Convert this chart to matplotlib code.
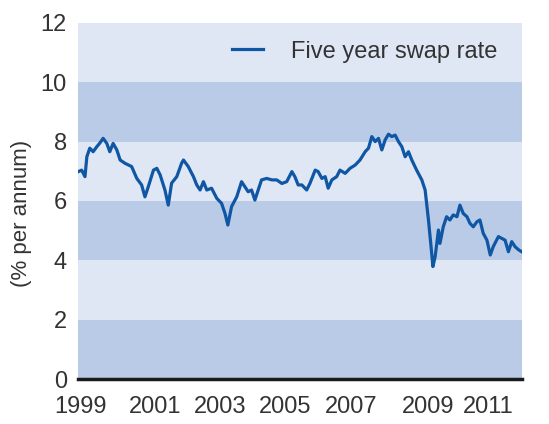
"""
Five year swap rate, 1999-2011
"""

import matplotlib
matplotlib.use("Agg")
import matplotlib.pyplot as plt

plt.rcParams['font.family'] = ['Liberation Sans', 'DejaVu Sans']

# data (decimal year, % per annum)
years = [1999.03, 1999.10, 1999.19, 1999.24, 1999.32, 1999.41, 1999.51, 1999.59,
         1999.68, 1999.78, 1999.86, 1999.95, 2000.05, 2000.14, 2000.27, 2000.45,
         2000.59, 2000.72, 2000.81, 2000.90, 2001.04, 2001.13, 2001.22, 2001.35,
         2001.44, 2001.53, 2001.67, 2001.80, 2001.85, 2001.98, 2002.12, 2002.21,
         2002.30, 2002.39, 2002.48, 2002.61, 2002.75, 2002.88, 2002.97, 2003.05,
         2003.15, 2003.29, 2003.42, 2003.51, 2003.60, 2003.69, 2003.78, 2003.87,
         2003.96, 2004.10, 2004.24, 2004.37, 2004.51, 2004.64, 2004.78, 2004.86,
         2004.95, 2005.05, 2005.18, 2005.27, 2005.41, 2005.49, 2005.59, 2005.68,
         2005.76, 2005.86, 2005.99, 2006.08, 2006.22, 2006.35, 2006.49, 2006.62,
         2006.76, 2006.85, 2006.94, 2007.03, 2007.12, 2007.21, 2007.30, 2007.39,
         2007.48, 2007.57, 2007.66, 2007.75, 2007.84, 2007.93, 2008.02, 2008.15,
         2008.29, 2008.38, 2008.47, 2008.54, 2008.59, 2008.65, 2008.74, 2008.78,
         2008.87, 2008.96, 2009.05, 2009.14, 2009.24, 2009.32, 2009.41, 2009.51,
         2009.59, 2009.68, 2009.78, 2009.86, 2009.95, 2010.05, 2010.14, 2010.22,
         2010.36, 2010.45, 2010.54, 2010.63, 2010.72, 2010.81, 2010.91, 2010.99]
swap_rate = [7.00, 7.04, 6.82, 7.49, 7.78, 7.66, 7.83, 7.95,
             8.11, 7.94, 7.66, 7.94, 7.72, 7.38, 7.27, 7.16,
             6.76, 6.54, 6.14, 6.48, 7.04, 7.10, 6.88, 6.37,
             5.86, 6.60, 6.82, 7.27, 7.38, 7.16, 6.82, 6.54,
             6.37, 6.65, 6.37, 6.43, 6.09, 5.92, 5.59, 5.19,
             5.81, 6.14, 6.65, 6.48, 6.31, 6.37, 6.03, 6.37,
             6.71, 6.76, 6.71, 6.71, 6.59, 6.65, 6.99, 6.82,
             6.54, 6.54, 6.37, 6.60, 7.04, 6.99, 6.76, 6.82,
             6.43, 6.71, 6.82, 7.04, 6.93, 7.10, 7.21, 7.38,
             7.66, 7.78, 8.17, 8.00, 8.11, 7.72, 8.06, 8.25,
             8.17, 8.22, 8.00, 7.83, 7.49, 7.66, 7.38, 7.04,
             6.71, 6.37, 5.36, 4.46, 3.79, 4.12, 5.02, 4.57,
             5.13, 5.47, 5.36, 5.53, 5.47, 5.86, 5.58, 5.47,
             5.25, 5.13, 5.30, 5.36, 4.91, 4.68, 4.18, 4.46,
             4.80, 4.74, 4.68, 4.29, 4.63, 4.46, 4.35, 4.29]

year_labels = ['1999', '2001', '2003', '2005', '2007', '2009', '2011']
y_ticks = [0, 2, 4, 6, 8, 10, 12]

# where the year labels sit under the axis in the original (not evenly spaced)
label_pos = [1999.08, 2001.08, 2002.84, 2004.59, 2006.38, 2008.46, 2010.08]

fig = plt.figure(figsize=(5.49, 4.24), dpi=100)
ax = fig.add_axes([0.142, 0.106, 0.809, 0.840])

# alternating horizontal bands
dark = '#b9cbe7'
light = '#dfe7f5'
for i in range(len(y_ticks) - 1):
    ax.axhspan(y_ticks[i], y_ticks[i + 1], color=dark if i % 2 == 0 else light,
               lw=0, zorder=0)

ax.plot(years, swap_rate, color='#0f57a4', linewidth=2.3, label='Five year swap rate',
        solid_joinstyle='round', zorder=3)

ax.set_xlim(1999, 2011)
ax.set_ylim(0, 12)
ax.set_yticks(y_ticks)
ax.set_xticks(label_pos)
ax.set_xticklabels(year_labels)
ax.tick_params(axis='both', length=0, labelsize=17, colors='#333333')
ax.tick_params(axis='x', pad=12)
ax.tick_params(axis='y', pad=8)

for side in ['top', 'right', 'left']:
    ax.spines[side].set_visible(False)
ax.spines['bottom'].set_linewidth(2.5)
ax.spines['bottom'].set_color('#1a1a1a')
ax.spines['bottom'].set_zorder(4)

ax.set_ylabel('(% per annum)', fontsize=16, color='#333333')
ax.yaxis.set_label_coords(-0.104, 0.466)

ax.legend(loc='center left', bbox_to_anchor=(0.347, 0.919), frameon=False,
          fontsize=17, handlelength=1.3, handletextpad=1.2,
          borderpad=0, borderaxespad=0, labelcolor='#333333')

plt.savefig('out.png', dpi=100)
plt.close()
